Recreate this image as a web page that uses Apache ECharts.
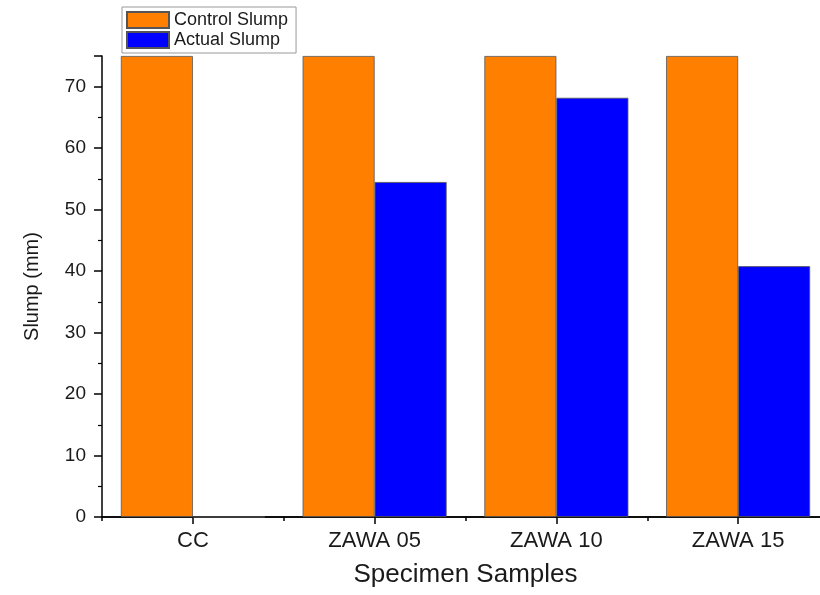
<!DOCTYPE html>
<html>
<head>
<meta charset="utf-8">
<script src="https://cdn.jsdelivr.net/npm/echarts@6/dist/echarts.min.js"></script>
<style>
  html, body { margin: 0; padding: 0; background: #fff; }
  #chart-container { width: 820px; height: 595px; }
</style>
</head>
<body>
<div id="chart-container"></div>
<script>
// data
const samples = ['CC', 'ZAWA 05', 'ZAWA 10', 'ZAWA 15']
const controlSlump = [75, 75, 75, 75]
const actualSlump = [0, 54.5, 68.2, 40.8]
const yTicks = { min: 0, max: 75, interval: 10 }

const font = 'Liberation Sans, Arial, sans-serif'
const ink = '#1a1a1a'

const myChart = echarts.init(document.getElementById('chart-container'))
const option = {
    animation: false,
    legend: {
        orient: 'vertical',
        left: 122,
        top: 7,
        padding: [4, 8, 4, 4],
        itemWidth: 42,
        itemHeight: 16,
        itemGap: 2,
        icon: 'rect',
        borderColor: '#999',
        borderWidth: 1,
        textStyle: { fontFamily: font, fontSize: 18, lineHeight: 16, color: ink },
        data: ['Control Slump', 'Actual Slump']
    },
    // plot runs past the right edge of the picture, as in the original
    grid: { left: 102, width: 727, top: 56, bottom: 78, outerBoundsMode: 'none', containLabel: false },
    xAxis: [
        {
            type: 'category',
            data: samples,
            name: 'Specimen Samples',
            nameLocation: 'middle',
            nameGap: 45,
            nameTextStyle: { fontFamily: font, fontSize: 26, color: ink },
            axisLine: { lineStyle: { color: '#000', width: 1.5 } },
            axisTick: { show: true, alignWithLabel: true, length: 7, lineStyle: { color: '#000', width: 1.5 } },
            axisLabel: { margin: 13, fontFamily: font, fontSize: 22, color: ink }
        },
        {
            // short ticks at the category boundaries
            type: 'category',
            data: samples,
            position: 'bottom',
            axisLine: { show: true, lineStyle: { color: '#000', width: 1.5 } },
            axisTick: { show: true, alignWithLabel: false, length: 4, lineStyle: { color: '#000', width: 1.5 } },
            axisLabel: { show: false }
        }
    ],
    yAxis: {
        type: 'value',
        min: yTicks.min,
        max: yTicks.max,
        interval: yTicks.interval,
        name: 'Slump (mm)',
        nameLocation: 'middle',
        nameGap: 60,
        nameTextStyle: { fontFamily: font, fontSize: 20, color: ink },
        axisLine: { show: true, lineStyle: { color: '#000', width: 1.5 } },
        axisTick: { show: true, length: 8, lineStyle: { color: '#000', width: 1.5 } },
        minorTick: { show: true, splitNumber: 2, length: 4, lineStyle: { color: '#000', width: 1.2 } },
        splitLine: { show: false },
        axisLabel: { margin: 16, showMaxLabel: false, fontFamily: font, fontSize: 19, color: ink }
    },
    series: [
        {
            name: 'Control Slump',
            type: 'bar',
            data: controlSlump,
            barWidth: 72,
            barGap: '0%',
            itemStyle: { color: '#FF8000', borderColor: '#555', borderWidth: 0.8 }
        },
        {
            name: 'Actual Slump',
            type: 'bar',
            data: actualSlump,
            barWidth: 72,
            barGap: '0%',
            itemStyle: { color: '#0000FF', borderColor: '#555', borderWidth: 0.8 }
        }
    ]
}

option && myChart.setOption(option)
</script>
</body>
</html>
